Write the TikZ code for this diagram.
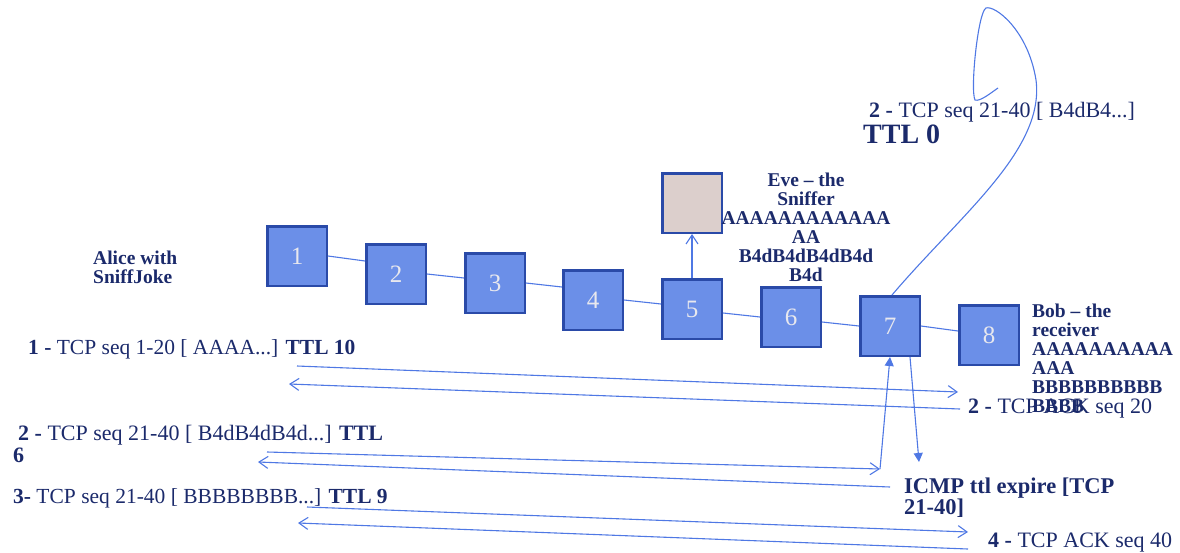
\documentclass[tikz,border=0pt]{standalone}
\usepackage{fontspec}
\setmainfont{Liberation Serif}
\usetikzlibrary{arrows.meta}
\definecolor{ink}{HTML}{1B2A6B}
\definecolor{boxfill}{HTML}{6B8FE8}
\definecolor{boxedge}{HTML}{2A4AA8}
\definecolor{numtext}{HTML}{E8E8EE}
\definecolor{evefill}{HTML}{DCCFCC}
\definecolor{wirec}{HTML}{4F78E4}
% let stacked lines keep their fixed baseline distance
\protected\def\tightlines{\lineskiplimit=-20pt\relax}
\tikzset{
  lbl/.style={inner sep=0pt, text=ink, font=\fontsize{22}{22}\selectfont, anchor=base west, align=left},
  blbl/.style={inner sep=0pt, text=ink, font=\bfseries\fontsize{19.5}{19}\selectfont\tightlines, anchor=base west, align=left},
  hop/.style={draw=boxedge, fill=boxfill, line width=2.5pt, minimum size=59.5pt, inner sep=0pt,
              text=numtext, font=\fontsize{25}{25}\selectfont},
  wire/.style={draw=wirec, line width=1.1pt},
  msg/.style={wire, -{Straight Barb[length=9pt,width=12pt]}},
  hit/.style={wire, -{Triangle[length=9pt,width=9pt]}}
}
\begin{document}
\begin{tikzpicture}[x=1pt,y=-1pt]
\useasboundingbox (0,0) rectangle (1180,552);

% router chain
\node[hop] (h1) at (297,256) {1};
\node[hop] (h2) at (396,274) {2};
\node[hop] (h3) at (495,283) {3};
\node[hop] (h4) at (593,300) {4};
\node[hop] (h5) at (692,309) {5};
\node[hop] (h6) at (791,317) {6};
\node[hop] (h7) at (890,326) {7};
\node[hop] (h8) at (989,335) {8};
\node[hop, fill=evefill] (eve) at (692,203) {};

\draw[wire] (h1.east) -- ([yshift=13pt]h2.west);
\draw[wire] (h2.east) -- ([yshift=5pt]h3.west);
\draw[wire] (h3.east) -- ([yshift=13pt]h4.west);
\draw[wire] (h4.east) -- ([yshift=5pt]h5.west);
\draw[wire] ([yshift=-4pt]h5.east) -- (h6.west);
\draw[wire] ([yshift=-5pt]h6.east) -- (h7.west);
\draw[wire] (h7.east) -- ([yshift=4pt]h8.west);
\draw[msg] (h5.north) -- (eve.south);

% packet exchanges
\coordinate (m1s) at (297,366);  \coordinate (m1e) at (958,392);
\coordinate (m1rs) at (960,409); \coordinate (m1re) at (289,384);
\coordinate (m2s) at (267,452);  \coordinate (m2e) at (880,469);
\coordinate (m2rs) at (890,487); \coordinate (m2re) at (258,462);
\coordinate (m3s) at (307,507);  \coordinate (m3e) at (968,532);
\coordinate (m3rs) at (968,549); \coordinate (m3re) at (298,523);
\coordinate (icmpT) at (919,462);
\coordinate (loopend) at (998,88);

\draw[msg] (m1s) -- (m1e);
\draw[msg] (m1rs) -- (m1re);
\draw[msg] (m2s) -- (m2e);
\draw[hit] (m2e) -- (h7.south);
\draw[msg] (m2rs) -- (m2re);
\draw[hit] ([xshift=20pt]h7.south) -- (icmpT);
\draw[msg] (m3s) -- (m3e);
\draw[msg] (m3rs) -- (m3re);

% expired packet looping away
\draw[wire] ([xshift=2pt]h7.north) .. controls (960,215) and (1045,150) .. (1036,80)
  .. controls (1028,30) and (995,5) .. (986,8)
  .. controls (978,12) and (970,90) .. (975,100)
  .. controls (980,102) and (992,92) .. (loopend);

% labels (multi-line nodes are anchored on their last baseline)
\node[blbl] (alice) at (93,283) {Alice with\\SniffJoke};
\node[blbl, align=center, anchor=base] (evetxt) at (806,281)
  {Eve – the\\Sniffer\\AAAAAAAAAAAA\\AA\\B4dB4dB4dB4d\\B4d};
\node[blbl] (bob) at (1032,412)
  {Bob – the\\receiver\\AAAAAAAAAA\\AAA\\BBBBBBBBBB\\BBBB};

\node[lbl, font=\fontsize{21.5}{22}\selectfont] (t1) at (28,354) {\textbf{1 -} TCP seq 1-20 [ AAAA...] \textbf{TTL 10}};
\node[lbl] (t2) at (13,462) {\hspace*{5pt}\textbf{2 -} TCP seq 21-40 [ B4dB4dB4d...] \textbf{TTL}\\\textbf{6}};
\node[lbl, font=\fontsize{21.5}{22}\selectfont] (t3) at (13,503) {\textbf{3-} TCP seq 21-40 [ BBBBBBBB...] \textbf{TTL 9}};
\node[lbl] (ack1) at (968,413) {\textbf{2 -} TCP ACK seq 20};
\node[lbl] (ack2) at (988,547) {\textbf{4 -} TCP ACK seq 40};
\node[lbl, font=\bfseries\fontsize{22.5}{21}\selectfont\tightlines] (icmp) at (904,514) {ICMP ttl expire [TCP\\21-40]};
\node[lbl] (t2b) at (869,117) {\textbf{2 -} TCP seq 21-40 [ B4dB4...]};
\node[lbl, font=\bfseries\fontsize{28}{28}\selectfont] (ttl0) at (863,143) {TTL 0};
\end{tikzpicture}
\end{document}
